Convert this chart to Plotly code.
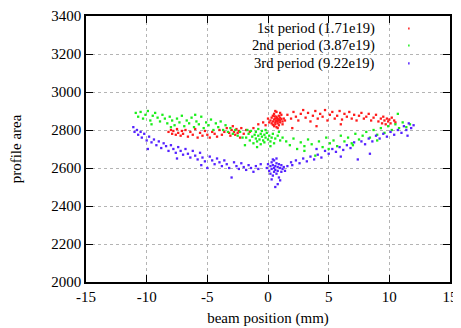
import plotly.graph_objects as go

# ---- data ----
red_x = [-8.2,-8.0,-7.9,-7.8,-7.6,-7.5,-7.4,-7.2,-7.1,-7.0,-6.8,-6.6,-6.4,-6.2,-6.0,-5.8,-5.6,-5.4,-5.2,-5.0,-4.8,-4.6,-4.4,-4.2,-4.0,-3.8,-3.6,-3.4,-3.2,-3.1,-3.0,-2.9,-2.8,-2.7,-2.6,-2.5,-2.4,-2.3,-2.2,-2.0,-1.8,-1.5,-1.2,-0.8,-0.4,-0.2,
         0.2,0.3,0.3,0.4,0.4,0.5,0.5,0.5,0.6,0.6,0.6,0.7,0.7,0.7,0.7,0.8,0.8,0.8,0.9,0.9,0.9,1.0,1.0,1.0,1.1,1.1,1.2,1.2,1.3,1.4,0.0,0.1,0.6,0.8,0.4,1.0,0.65,0.75,0.55,0.85,
         1.6,1.9,2.1,2.3,2.5,2.7,2.9,3.1,3.3,3.5,3.7,3.9,4.1,4.3,4.5,4.7,4.9,5.1,5.3,5.5,5.7,5.9,6.1,6.3,6.5,6.7,6.9,7.1,7.3,7.5,7.7,7.9,8.1,8.3,8.5,8.7,8.9,9.1,9.3,9.4,9.5,9.6,9.7,9.8,9.9,10.0,10.1,10.2,10.4,10.5,4.0,6.0,2.0]
red_y = [2790,2800,2780,2795,2775,2805,2785,2770,2795,2780,2800,2765,2790,2775,2805,2760,2785,2770,2795,2775,2760,2790,2780,2765,2800,2775,2790,2810,2785,2770,2800,2820,2790,2775,2805,2785,2795,2760,2810,2780,2800,2790,2810,2830,2840,2825,
         2850,2835,2865,2845,2875,2820,2855,2885,2840,2860,2830,2850,2870,2815,2895,2845,2860,2835,2855,2875,2825,2850,2865,2840,2858,2880,2845,2830,2860,2850,2860,2840,2900,2810,2828,2890,2846,2862,2872,2852,
         2880,2860,2895,2870,2850,2885,2905,2865,2890,2845,2875,2900,2860,2885,2870,2905,2850,2880,2895,2860,2875,2900,2855,2885,2870,2895,2860,2880,2850,2875,2890,2860,2870,2885,2850,2865,2880,2845,2860,2835,2870,2850,2830,2860,2845,2855,2835,2865,2850,2840,2820,2830,2810]

green_x = [-10.9,-10.7,-10.5,-10.3,-10.1,-9.9,-9.7,-9.5,-9.3,-9.1,-8.9,-8.7,-8.5,-8.3,-8.1,-7.9,-7.7,-7.5,-7.3,-7.1,-6.9,-6.7,-6.5,-6.3,-6.1,-5.9,-5.7,-5.5,-5.3,-5.1,-4.9,-4.7,-4.5,-4.3,-4.1,-3.9,-3.7,-3.5,-3.3,-3.1,-2.9,-2.7,-2.5,-2.3,-2.1,-8.0,-6.0,-9.6,
           -1.8,-1.6,-1.5,-1.4,-1.3,-1.2,-1.1,-1.0,-1.0,-0.9,-0.8,-0.8,-0.7,-0.6,-0.6,-0.5,-0.5,-0.4,-0.3,-0.3,-0.2,-0.1,0.0,0.1,0.2,0.3,0.4,0.5,0.6,0.8,1.0,1.2,-1.9,-0.9,0.2,-0.2,-1.7,0.9,
           1.5,1.8,2.1,2.4,2.7,3.0,3.3,3.6,3.9,4.2,4.5,4.8,5.1,5.4,5.7,6.0,6.3,6.6,6.9,7.2,7.5,7.8,8.1,8.4,8.7,9.0,9.3,9.6,9.9,10.2,10.5,10.7,10.8,11.1,11.4,11.7,3.0,5.0,7.0,9.0]
green_y = [2890,2870,2895,2860,2880,2900,2850,2875,2890,2865,2845,2880,2860,2835,2870,2850,2825,2860,2840,2875,2820,2850,2835,2865,2815,2845,2830,2870,2810,2840,2825,2855,2800,2835,2815,2845,2800,2825,2790,2810,2780,2800,2770,2790,2760,2815,2880,2830,
           2760,2780,2745,2795,2765,2730,2775,2755,2790,2740,2770,2805,2750,2780,2725,2765,2795,2745,2775,2735,2760,2785,2750,2770,2740,2760,2780,2730,2755,2770,2745,2760,2720,2710,2715,2800,2800,2790,
           2740,2720,2755,2700,2735,2715,2750,2725,2665,2740,2710,2760,2730,2745,2715,2770,2740,2760,2730,2780,2750,2770,2790,2760,2800,2775,2810,2785,2820,2800,2830,2885,2810,2840,2815,2830,2690,2700,2720,2745]

blue_x = [-11.1,-11.0,-10.8,-10.7,-10.5,-10.4,-10.2,-10.0,-9.8,-9.6,-9.4,-9.2,-9.0,-8.8,-8.6,-8.4,-8.2,-8.0,-7.8,-7.6,-7.4,-7.2,-7.0,-6.8,-6.6,-6.4,-6.2,-6.0,-5.8,-5.6,-5.4,-5.2,-5.0,-4.8,-4.6,-4.4,-4.2,-4.0,-3.8,-3.6,-3.4,-3.2,-3.0,-2.8,-2.6,-2.4,-2.2,-2.0,-1.8,-1.6,-1.4,-1.2,-1.0,-0.8,-0.6,-9.9,-7.5,-5.5,
          -0.1,0.0,0.1,0.2,0.2,0.3,0.3,0.4,0.4,0.5,0.5,0.5,0.6,0.6,0.7,0.7,0.8,0.8,0.9,0.9,1.0,1.1,1.1,1.2,1.3,1.4,0.6,0.8,0.3,1.0,0.4,0.7,
          1.6,1.9,2.0,2.3,2.6,2.9,3.2,3.5,3.8,4.1,4.4,4.7,5.0,5.3,5.6,5.9,6.2,6.5,6.8,7.1,7.4,7.7,8.0,8.3,8.4,8.6,8.9,9.2,9.5,9.8,10.1,10.4,10.7,11.0,11.2,11.4,11.6,11.8,12.0,11.5,6.0,4.0]
blue_y = [2815,2790,2800,2775,2790,2760,2780,2745,2765,2735,2750,2720,2740,2705,2730,2715,2690,2720,2700,2680,2710,2690,2670,2700,2675,2655,2690,2665,2645,2680,2655,2635,2600,2660,2640,2620,2650,2630,2610,2640,2620,2600,2550,2630,2610,2595,2625,2605,2590,2615,2600,2580,2610,2595,2620,2700,2650,2615,
          2600,2620,2585,2610,2570,2630,2595,2615,2560,2600,2640,2580,2610,2590,2625,2570,2605,2585,2620,2550,2600,2580,2615,2595,2605,2585,2500,2515,2540,2535,2645,2650,
          2610,2630,2615,2640,2625,2650,2635,2660,2645,2670,2655,2690,2675,2700,2685,2710,2695,2720,2705,2735,2645,2740,2725,2755,2675,2740,2770,2755,2780,2765,2790,2775,2800,2785,2820,2800,2835,2810,2825,2770,2660,2700]

labels = ["1st period (1.71e19)", "2nd period (3.87e19)", "3rd period (9.22e19)"]
colors = ["#ff1a1a", "#1aee1a", "#5522ff"]
xs = [red_x, green_x, blue_x]
ys = [red_y, green_y, blue_y]

x_ticks = [-15, -10, -5, 0, 5, 10, 15]
y_ticks = [2000, 2200, 2400, 2600, 2800, 3000, 3200, 3400]

FONT = "Liberation Serif"

fig = go.Figure()
for x, y, c, name in zip(xs, ys, colors, labels):
    fig.add_trace(go.Scatter(x=x, y=y, mode="markers", name=name,
                             marker=dict(symbol="square", size=2.3, color=c, line=dict(width=0)),
                             showlegend=False))

shapes = [dict(type="rect", xref="paper", yref="paper", x0=0.283, x1=1.0, y0=0.766, y1=1.0,
               fillcolor="white", line=dict(width=0), layer="between")]
annotations = []
leg_y = [0.953, 0.889, 0.822]
for ly, name, c in zip(leg_y, labels, colors):
    annotations.append(dict(xref="paper", yref="paper", x=0.80, y=ly, text=name, showarrow=False,
                            xanchor="right", yanchor="middle", font=dict(family=FONT, size=14.6, color="black")))
    shapes.append(dict(type="rect", xref="paper", yref="paper", x0=0.885, x1=0.889,
                       y0=ly - 0.004, y1=ly + 0.004, fillcolor=c, line=dict(width=0), layer="above"))

axis_common = dict(showline=True, linecolor="black", linewidth=1.5, mirror="ticks",
                   ticks="inside", ticklen=7, tickcolor="black", tickwidth=1,
                   showgrid=True, gridcolor="#b4b4b4", griddash="dot", gridwidth=1,
                   zeroline=False, automargin=False,
                   tickfont=dict(family=FONT, size=15, color="black"))

# the page body adds an 8px offset, so the figure is 8px smaller and margins are shifted
fig.update_layout(
    width=453, height=320,
    margin=dict(l=78, r=11, t=8, b=46, autoexpand=False),
    paper_bgcolor="white", plot_bgcolor="white",
    font=dict(family=FONT, size=15, color="black"),
    xaxis=dict(range=[-15, 15], tickvals=x_ticks, ticktext=[str(v) for v in x_ticks],
               title=dict(text="beam position (mm)", font=dict(family=FONT, size=15), standoff=9),
               **axis_common),
    yaxis=dict(range=[2000, 3400], tickvals=y_ticks, ticktext=[str(v) for v in y_ticks],
               title=dict(text="profile area", font=dict(family=FONT, size=15), standoff=32),
               **axis_common),
    shapes=shapes, annotations=annotations,
)

fig.write_html("out.html")
